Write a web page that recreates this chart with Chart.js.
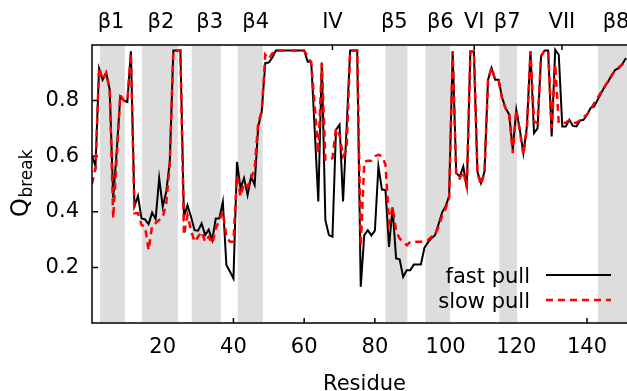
<!DOCTYPE html>
<html><head><meta charset="utf-8">
<script src="https://cdn.jsdelivr.net/npm/chart.js@4/dist/chart.umd.min.js"></script>
<style>html,body{margin:0;padding:0;background:#fff;overflow:hidden}#wrap{width:627px;height:391px}</style>
</head><body><div id="wrap"><canvas id="c" width="627" height="391"></canvas></div>
<script>
const firstResidue = 0;
const fastPull = [0.60,0.565,0.915,0.875,0.90,0.84,0.45,0.62,0.815,0.80,
 0.795,0.977,0.42,0.457,0.376,0.373,0.355,0.397,0.374,0.521,
 0.418,0.472,0.581,0.98,0.98,0.98,0.382,0.424,0.382,0.334,
 0.332,0.358,0.316,0.336,0.298,0.376,0.376,0.436,0.209,0.185,
 0.16,0.58,0.485,0.521,0.46,0.527,0.497,0.707,0.761,0.935,
 0.937,0.955,0.98,0.98,0.98,0.98,0.98,0.98,0.98,0.98,
 0.98,0.94,0.94,0.69,0.437,0.937,0.37,0.316,0.31,0.695,
 0.713,0.437,0.70,0.98,0.98,0.98,0.13,0.316,0.334,0.315,
 0.332,0.563,0.48,0.478,0.274,0.415,0.232,0.229,0.166,0.19,
 0.19,0.21,0.21,0.21,0.27,0.29,0.305,0.316,0.355,0.397,
 0.42,0.457,0.977,0.539,0.527,0.563,0.485,0.977,0.977,0.544,
 0.503,0.544,0.875,0.917,0.875,0.875,0.809,0.773,0.749,0.623,
 0.767,0.695,0.611,0.707,0.977,0.683,0.70,0.96,0.98,0.98,
 0.671,0.983,0.965,0.707,0.707,0.731,0.709,0.707,0.728,0.731,
 0.749,0.773,0.779,0.803,0.827,0.851,0.869,0.893,0.911,0.917,
 0.932,0.953];
const slowPull = [0.50,0.56,0.92,0.875,0.90,0.84,0.377,0.60,0.82,0.80,
 0.80,0.97,0.395,0.395,0.353,0.346,0.262,0.35,0.36,0.37,
 0.38,0.43,0.575,0.98,0.98,0.98,0.316,0.388,0.334,0.292,
 0.31,0.328,0.292,0.31,0.286,0.34,0.37,0.40,0.31,0.292,
 0.292,0.527,0.455,0.503,0.49,0.52,0.557,0.719,0.761,0.965,
 0.95,0.97,0.98,0.98,0.98,0.98,0.98,0.98,0.98,0.98,
 0.98,0.96,0.935,0.78,0.61,0.935,0.587,0.587,0.593,0.70,
 0.677,0.60,0.622,0.98,0.98,0.98,0.275,0.58,0.584,0.584,
 0.60,0.605,0.60,0.57,0.36,0.418,0.33,0.304,0.292,0.28,
 0.292,0.292,0.292,0.292,0.295,0.298,0.31,0.316,0.346,0.385,
 0.412,0.45,0.977,0.527,0.52,0.544,0.49,0.977,0.977,0.54,
 0.497,0.54,0.875,0.92,0.875,0.87,0.805,0.77,0.749,0.611,
 0.767,0.69,0.605,0.70,0.977,0.725,0.72,0.96,0.98,0.98,
 0.70,0.93,0.72,0.72,0.72,0.73,0.72,0.72,0.73,0.74,
 0.75,0.77,0.79,0.81,0.83,0.85,0.87,0.89,0.91,0.92,
 0.93,0.95];
const xTickValues = [20,40,60,80,100,120,140];
const yTickValues = [0.2,0.4,0.6,0.8];
const topLabels = ['β1','β2','β3','β4','IV','β5','β6','VI','β7','VII','β8'];
const topLabelPos = [5.4,19.5,33.3,46.3,68,85.5,98.5,108.1,117.4,132.9,148.2];
const bandStarts = [2.3,14.1,28.2,41.2,83.0,94.3,115.2,143.1];
const bandEnds   = [9.3,24.3,36.4,48.3,89.2,101.3,120.2,160];
const seriesNames = ['fast pull','slow pull'];
const xTitle = 'Residue';
const yTitleMain = 'Q';
const yTitleSub = 'break';

const FONT = 'DejaVu Sans';
const X_MAX = 151.3;

const toPts = arr => arr.map((v,i)=>({x:firstResidue+i, y:v}));
const noPad = s => { s.paddingLeft = 0; s.paddingRight = 0; s.paddingTop = 0; s.paddingBottom = 0; };

const decor = {
  id:'decor',
  beforeDatasetsDraw(chart){
    const {ctx, chartArea:a, scales} = chart;
    const xs = scales.x, ys = scales.y;
    ctx.save();
    ctx.strokeStyle = '#000'; ctx.lineWidth = 1.5;
    ctx.beginPath();
    xTickValues.forEach(v=>{const p=xs.getPixelForValue(v); ctx.moveTo(p,a.bottom); ctx.lineTo(p,a.bottom-5);});
    topLabelPos.forEach(v=>{const p=xs.getPixelForValue(v); ctx.moveTo(p,a.top); ctx.lineTo(p,a.top+5);});
    yTickValues.forEach(v=>{const p=ys.getPixelForValue(v); ctx.moveTo(a.left,p); ctx.lineTo(a.left+6,p);});
    ctx.stroke();
    ctx.beginPath(); ctx.rect(a.left,a.top,a.right-a.left,a.bottom-a.top); ctx.clip();
    ctx.fillStyle = '#dddddd';
    bandStarts.forEach((s,i)=>{
      const x1 = xs.getPixelForValue(s), x2 = xs.getPixelForValue(bandEnds[i]);
      ctx.fillRect(x1,a.top,x2-x1,a.bottom-a.top);
    });
    ctx.restore();
  },
  afterDatasetsDraw(chart){
    const {ctx, chartArea:a} = chart;
    ctx.save();
    ctx.strokeStyle = '#000'; ctx.lineWidth = 1.5;
    ctx.beginPath();
    ctx.moveTo(a.right+2,a.top); ctx.lineTo(a.left,a.top); ctx.lineTo(a.left,a.bottom); ctx.lineTo(a.right+2,a.bottom);
    ctx.stroke();
    ctx.font = '21px "'+FONT+'"';
    ctx.fillStyle = '#000'; ctx.textAlign='right'; ctx.textBaseline='alphabetic';
    const ds = chart.data.datasets;
    [[282.5,275],[307.5,300]].forEach((pos,i)=>{
      ctx.fillText(ds[i].label, 530, pos[0]);
      ctx.save();
      ctx.strokeStyle = ds[i].borderColor; ctx.lineWidth = ds[i].borderWidth;
      ctx.setLineDash(ds[i].borderDash||[]);
      ctx.beginPath(); ctx.moveTo(546,pos[1]); ctx.lineTo(611,pos[1]); ctx.stroke();
      ctx.restore();
    });
    ctx.restore();
  },
  afterDraw(chart){
    const {ctx} = chart;
    ctx.save();
    ctx.fillStyle='#000';
    ctx.font = '21px "'+FONT+'"';
    ctx.textAlign='center'; ctx.textBaseline='alphabetic';
    ctx.fillText(xTitle, 364.5, 390);
    ctx.translate(28, 217);
    ctx.rotate(-Math.PI/2);
    ctx.textAlign='left';
    ctx.font = '24px "'+FONT+'"';
    ctx.fillText(yTitleMain, 0, 0);
    const w = ctx.measureText(yTitleMain).width;
    ctx.font = '17px "'+FONT+'"';
    ctx.fillText(yTitleSub, w+0.5, 4);
    ctx.restore();
  }
};

new Chart(document.getElementById('c'), {
  type:'line',
  data:{datasets:[
    {label:seriesNames[0], data:toPts(fastPull), borderColor:'#000000', borderWidth:2, pointRadius:0, tension:0, fill:false, order:2},
    {label:seriesNames[1], data:toPts(slowPull), borderColor:'#ff0000', borderWidth:2.5, borderDash:[7,5], pointRadius:0, tension:0, fill:false, order:1}
  ]},
  options:{
    responsive:false, animation:false, devicePixelRatio:1,
    layout:{padding:0},
    plugins:{legend:{display:false}, tooltip:{enabled:false}},
    scales:{
      x:{type:'linear', position:'bottom', min:0, max:X_MAX,
        afterBuildTicks:s=>{s.ticks = xTickValues.map(v=>({value:v}));},
        afterFit:s=>{s.height=68; noPad(s);},
        grid:{display:false, drawTicks:false}, border:{display:false},
        ticks:{font:{family:FONT,size:21}, color:'#000', padding:12, maxRotation:0, autoSkip:false}},
      x2:{type:'linear', position:'top', min:0, max:X_MAX,
        afterBuildTicks:s=>{s.ticks = topLabelPos.map(v=>({value:v}));},
        afterFit:s=>{s.height=45; noPad(s);},
        grid:{display:false, drawTicks:false}, border:{display:false},
        ticks:{font:{family:FONT,size:21}, color:'#000', padding:10, maxRotation:0, autoSkip:false,
          callback:(v,i)=>topLabels[i]}},
      y:{type:'linear', position:'left', min:0, max:1,
        afterBuildTicks:s=>{s.ticks = yTickValues.map(v=>({value:v}));},
        afterFit:s=>{s.width=92; noPad(s);},
        grid:{display:false, drawTicks:false}, border:{display:false},
        ticks:{font:{family:FONT,size:21}, color:'#000', padding:13,
          callback:v=>v.toFixed(1)}}
    }
  },
  plugins:[decor]
});
</script></body></html>
